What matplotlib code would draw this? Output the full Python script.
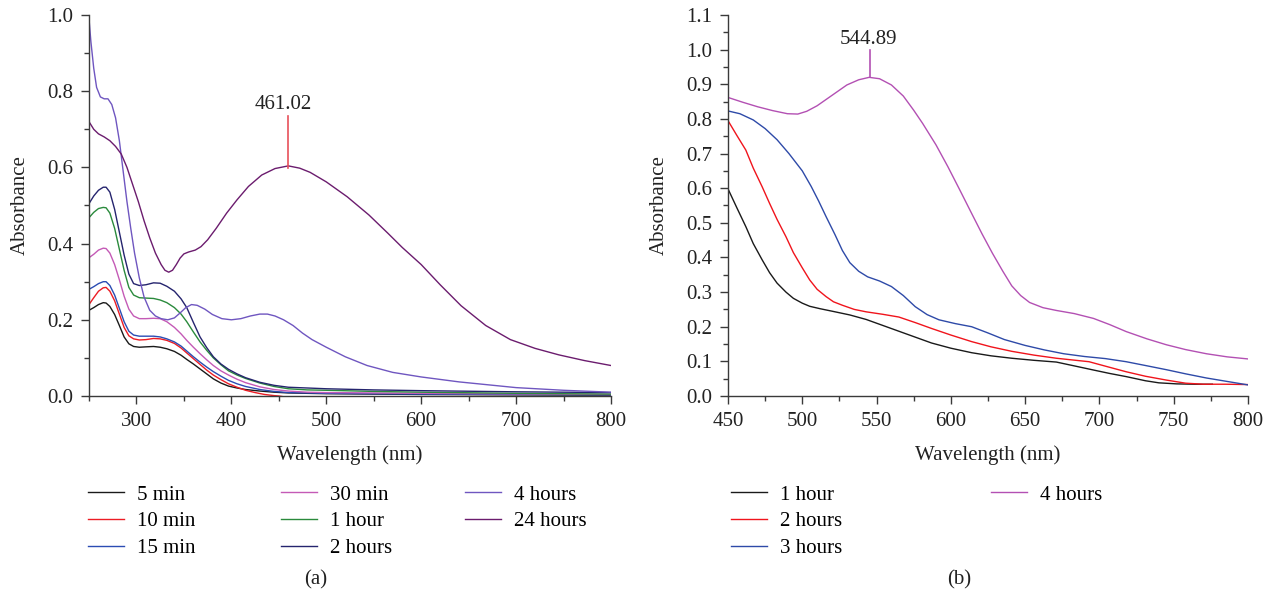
import matplotlib.pyplot as plt
from matplotlib.legend import Legend
from matplotlib.ticker import MultipleLocator

plt.rcParams['font.family'] = ['Liberation Serif', 'DejaVu Serif']
plt.rcParams['font.size'] = 15

# ---------- panel (a) ----------
wl_5min = [250, 255, 260, 265, 268, 272, 277, 282, 287, 292, 297, 303, 310, 318, 325, 332, 340, 347, 353, 360, 367, 374, 381, 389, 397, 406, 415, 430, 445, 460, 500, 600, 800]
ab_5min = [0.225, 0.232, 0.24, 0.245, 0.244, 0.235, 0.214, 0.185, 0.155, 0.137, 0.13, 0.128, 0.129, 0.13, 0.128, 0.124, 0.117, 0.107, 0.096, 0.084, 0.071, 0.058, 0.045, 0.034, 0.026, 0.021, 0.017, 0.013, 0.01, 0.008, 0.006, 0.004, 0.002]

wl_10min = [250, 255, 260, 265, 268, 272, 277, 282, 287, 292, 297, 303, 310, 318, 325, 332, 340, 347, 353, 360, 367, 374, 381, 389, 397, 406, 415, 425, 435, 445, 450, 460, 800]
ab_10min = [0.24, 0.258, 0.275, 0.284, 0.285, 0.275, 0.25, 0.215, 0.18, 0.158, 0.15, 0.147, 0.148, 0.151, 0.15, 0.146, 0.138, 0.126, 0.113, 0.098, 0.083, 0.068, 0.055, 0.043, 0.032, 0.023, 0.015, 0.009, 0.004, 0.001, 0.0, -0.004, -0.005]

wl_15min = [250, 255, 260, 265, 268, 272, 277, 282, 287, 292, 297, 303, 310, 318, 325, 332, 340, 347, 353, 360, 367, 374, 381, 389, 397, 406, 415, 430, 445, 460, 500, 600, 800]
ab_15min = [0.28, 0.287, 0.295, 0.3, 0.3, 0.29, 0.265, 0.23, 0.195, 0.17, 0.16, 0.157, 0.157, 0.157, 0.155, 0.15, 0.142, 0.131, 0.118, 0.103, 0.089, 0.076, 0.064, 0.052, 0.041, 0.032, 0.025, 0.017, 0.012, 0.009, 0.007, 0.005, 0.003]

wl_30min = [250, 255, 260, 265, 268, 272, 277, 282, 287, 292, 297, 303, 310, 318, 325, 332, 340, 347, 353, 360, 367, 374, 381, 389, 397, 406, 415, 430, 445, 460, 480, 500, 600, 800]
ab_30min = [0.363, 0.372, 0.383, 0.388, 0.387, 0.375, 0.345, 0.305, 0.262, 0.228, 0.21, 0.203, 0.203, 0.204, 0.203, 0.195, 0.18, 0.163, 0.146, 0.128, 0.111, 0.095, 0.08, 0.066, 0.055, 0.044, 0.035, 0.024, 0.017, 0.013, 0.01, 0.009, 0.007, 0.004]

wl_1h = [250, 255, 260, 265, 268, 272, 277, 282, 287, 292, 297, 303, 310, 318, 325, 332, 340, 347, 353, 360, 367, 374, 381, 389, 397, 406, 415, 430, 445, 460, 480, 500, 550, 600, 700, 800]
ab_1h = [0.468, 0.482, 0.492, 0.495, 0.494, 0.48, 0.44, 0.385, 0.33, 0.285, 0.265, 0.258, 0.257, 0.256, 0.252, 0.245, 0.232, 0.215, 0.195, 0.168, 0.142, 0.12, 0.1, 0.082, 0.066, 0.055, 0.046, 0.034, 0.025, 0.019, 0.016, 0.015, 0.012, 0.01, 0.007, 0.005]

wl_2h = [250, 255, 260, 265, 268, 272, 277, 282, 287, 292, 297, 303, 310, 318, 325, 332, 340, 347, 353, 360, 367, 374, 381, 389, 397, 406, 415, 430, 445, 460, 480, 500, 550, 600, 700, 800]
ab_2h = [0.505, 0.525, 0.54, 0.548, 0.548, 0.535, 0.49, 0.43, 0.37, 0.32, 0.295, 0.29, 0.292, 0.297, 0.296, 0.288, 0.275, 0.255, 0.232, 0.193, 0.155, 0.127, 0.103, 0.084, 0.07, 0.058, 0.048, 0.036, 0.028, 0.023, 0.021, 0.019, 0.016, 0.014, 0.011, 0.009]

wl_4h = [250, 252, 255, 258, 262, 266, 270, 274, 278, 282, 286, 290, 294, 298, 303, 308, 314, 320, 326, 333, 340, 346, 352, 358, 364, 372, 380, 390, 400, 410, 420, 430, 438, 446, 455, 465, 475, 485, 500, 520, 543, 570, 600, 640, 700, 750, 800]
ab_4h = [0.99, 0.93, 0.86, 0.81, 0.785, 0.78, 0.78, 0.765, 0.73, 0.67, 0.59, 0.51, 0.44, 0.375, 0.31, 0.26, 0.225, 0.21, 0.203, 0.2, 0.205, 0.218, 0.232, 0.24, 0.238, 0.228, 0.214, 0.203, 0.2, 0.203, 0.21, 0.215, 0.215, 0.21, 0.2, 0.185, 0.165, 0.148, 0.128, 0.103, 0.08, 0.062, 0.05, 0.037, 0.022, 0.015, 0.01]

wl_24h = [250, 255, 260, 266, 272, 278, 284, 290, 296, 302, 308, 314, 320, 326, 330, 334, 338, 342, 346, 350, 355, 362, 368, 375, 384, 395, 406, 418, 432, 446, 460, 472, 483, 500, 522, 545, 565, 580, 600, 620, 642, 668, 694, 720, 745, 772, 800]
ab_24h = [0.72, 0.7, 0.688, 0.68, 0.67, 0.655, 0.635, 0.6, 0.555, 0.51, 0.46, 0.415, 0.375, 0.345, 0.33, 0.325, 0.33, 0.345, 0.362, 0.373, 0.378, 0.383, 0.392, 0.41, 0.44, 0.48, 0.515, 0.55, 0.58, 0.597, 0.604, 0.598, 0.587, 0.562, 0.523, 0.475, 0.427, 0.39, 0.345, 0.292, 0.237, 0.185, 0.148, 0.125, 0.108, 0.093, 0.08]

series_a = [
    ('5 min', wl_5min, ab_5min, '#1a1a1a'),
    ('10 min', wl_10min, ab_10min, '#ec1c24'),
    ('15 min', wl_15min, ab_15min, '#2b4cb3'),
    ('30 min', wl_30min, ab_30min, '#c45ab6'),
    ('1 hour', wl_1h, ab_1h, '#2a8a3c'),
    ('2 hours', wl_2h, ab_2h, '#25246e'),
    ('4 hours', wl_4h, ab_4h, '#6f56c0'),
    ('24 hours', wl_24h, ab_24h, '#6b1c6e'),
]

# ---------- panel (b) ----------
wl_b_1h = [450, 456, 462, 467, 473, 478, 483, 489, 494, 500, 505, 512, 521, 532, 543, 554, 565, 576, 587, 600, 614, 627, 641, 656, 671, 683, 696, 707, 718, 731, 740, 752, 764, 776]
ab_b_1h = [0.598, 0.543, 0.489, 0.44, 0.393, 0.356, 0.326, 0.3, 0.282, 0.268, 0.259, 0.252, 0.244, 0.234, 0.221, 0.204, 0.187, 0.17, 0.153, 0.138, 0.125, 0.116, 0.109, 0.103, 0.098, 0.087, 0.075, 0.065, 0.056, 0.044, 0.038, 0.035, 0.034, 0.034]

wl_b_2h = [450, 456, 462, 467, 473, 478, 483, 489, 494, 500, 505, 510, 516, 521, 527, 535, 543, 554, 565, 576, 587, 600, 614, 627, 641, 656, 671, 682, 693, 705, 718, 731, 745, 758, 770, 785, 800]
ab_b_2h = [0.795, 0.752, 0.71, 0.658, 0.604, 0.556, 0.51, 0.46, 0.414, 0.37, 0.335, 0.308, 0.287, 0.272, 0.262, 0.25, 0.243, 0.236, 0.228, 0.212, 0.195, 0.176, 0.157, 0.142, 0.129, 0.118, 0.109, 0.104, 0.099, 0.085, 0.07, 0.057, 0.046, 0.037, 0.034, 0.034, 0.033]

wl_b_3h = [450, 458, 467, 475, 483, 491, 500, 506, 511, 516, 522, 527, 532, 538, 544, 552, 560, 568, 576, 584, 592, 603, 614, 625, 636, 650, 663, 676, 690, 704, 718, 731, 745, 758, 772, 786, 800]
ab_b_3h = [0.823, 0.815, 0.797, 0.772, 0.74, 0.7, 0.65, 0.605, 0.563, 0.518, 0.466, 0.42, 0.385, 0.36, 0.344, 0.332, 0.316, 0.29, 0.258, 0.235, 0.22, 0.209, 0.2, 0.182, 0.163, 0.146, 0.133, 0.122, 0.114, 0.108, 0.099, 0.088, 0.076, 0.064, 0.052, 0.042, 0.032]

wl_b_4h = [450, 460, 470, 480, 490, 497, 503, 510, 520, 530, 538, 545, 552, 560, 568, 575, 581, 590, 598, 606, 614, 621, 628, 635, 641, 647, 653, 662, 671, 683, 696, 707, 718, 732, 745, 758, 772, 786, 800]
ab_b_4h = [0.862, 0.848, 0.835, 0.824, 0.815, 0.814, 0.822, 0.838, 0.868, 0.898, 0.913, 0.92, 0.916, 0.898, 0.866, 0.825, 0.787, 0.725, 0.662, 0.595, 0.527, 0.468, 0.412, 0.36, 0.318, 0.29, 0.27, 0.255, 0.247, 0.238, 0.224, 0.206, 0.186, 0.165, 0.148, 0.134, 0.122, 0.113, 0.107]

series_b = [
    ('1 hour', wl_b_1h, ab_b_1h, '#1a1a1a'),
    ('2 hours', wl_b_2h, ab_b_2h, '#f0141c'),
    ('3 hours', wl_b_3h, ab_b_3h, '#2e4aa8'),
    ('4 hours', wl_b_4h, ab_b_4h, '#b350b3'),
]

W, H = 1274, 595
fig = plt.figure(figsize=(W / 100, H / 100), dpi=100)
ax1 = fig.add_axes([89 / W, 1 - 396 / H, 522 / W, 381 / H])
ax2 = fig.add_axes([728 / W, 1 - 396 / H, 520 / W, 381 / H])


def style(ax):
    for s in ['top', 'right']:
        ax.spines[s].set_visible(False)
    for s in ['left', 'bottom']:
        ax.spines[s].set_color('#3a3a3a')
        ax.spines[s].set_linewidth(1.0)
    ax.tick_params(which='major', direction='out', length=5.5, width=1.0, color='#3a3a3a', labelcolor='#222222', labelsize=15)
    ax.tick_params(axis='x', which='major', pad=6)
    ax.tick_params(axis='y', which='major', pad=6)
    ax.tick_params(which='minor', direction='out', length=3.5, width=1.0, color='#3a3a3a')
    ax.set_xlabel('Wavelength (nm)', fontsize=15, color='#222222')
    ax.set_ylabel('Absorbance', fontsize=15, color='#222222')
    ax.xaxis.set_label_coords(0.5, -0.128)
    ax.yaxis.set_label_coords(-0.113, 0.5)


def column_legend(ax, handles, labels, x_px):
    # one legend per column so each column sits where it does in the picture
    leg = Legend(ax, handles, labels, loc='upper left', bbox_to_anchor=(x_px / W, 1 - 485 / H),
                 bbox_transform=fig.transFigure, frameon=False, borderpad=0, borderaxespad=0,
                 handlelength=1.75, handletextpad=0.62, labelspacing=0.34, fontsize=15)
    ax.add_artist(leg)


for label, x, y, c in series_a:
    ax1.plot(x, y, color=c, lw=1.0, label=label)
ax1.set_xlim(250, 800)
ax1.set_ylim(0, 1.0)
ax1.xaxis.set_minor_locator(MultipleLocator(50))
ax1.yaxis.set_minor_locator(MultipleLocator(0.1))
ax1.set_xticks([300, 400, 500, 600, 700, 800])
ax1.set_yticks([0.0, 0.2, 0.4, 0.6, 0.8, 1.0])
ax1.set_yticklabels(['0.0', '0.2', '0.4', '0.6', '0.8', '1.0'])
style(ax1)
ax1.plot([460, 460], [0.598, 0.735], color='#e8505a', lw=1.2)
ax1.text(455, 0.764, '461.02', ha='center', va='center', fontsize=15, color='#222222')
h, l = ax1.get_legend_handles_labels()
column_legend(ax1, h[0:3], l[0:3], 88)
column_legend(ax1, h[3:6], l[3:6], 281)
column_legend(ax1, h[6:8], l[6:8], 465)

for label, x, y, c in series_b:
    ax2.plot(x, y, color=c, lw=1.0, label=label)
ax2.set_xlim(450, 800)
ax2.set_ylim(0, 1.1)
ax2.xaxis.set_major_locator(MultipleLocator(50))
ax2.xaxis.set_minor_locator(MultipleLocator(25))
ax2.yaxis.set_major_locator(MultipleLocator(0.1))
ax2.yaxis.set_minor_locator(MultipleLocator(0.05))
ax2.yaxis.set_major_formatter(lambda v, p: f'{v:.1f}')
style(ax2)
ax2.plot([545.8, 545.8], [0.92, 0.999], color='#b350b3', lw=1.2)
ax2.text(544.7, 1.028, '544.89', ha='center', va='center', fontsize=15, color='#222222')
h, l = ax2.get_legend_handles_labels()
column_legend(ax2, h[0:3], l[0:3], 731)
column_legend(ax2, h[3:4], l[3:4], 991)

fig.text(316 / W, 1 - 580 / H, '(a)', ha='center', va='center', fontsize=15, color='#222222')
fig.text(959 / W, 1 - 580 / H, '(b)', ha='center', va='center', fontsize=15, color='#222222')

fig.savefig('out.png', dpi=100)
